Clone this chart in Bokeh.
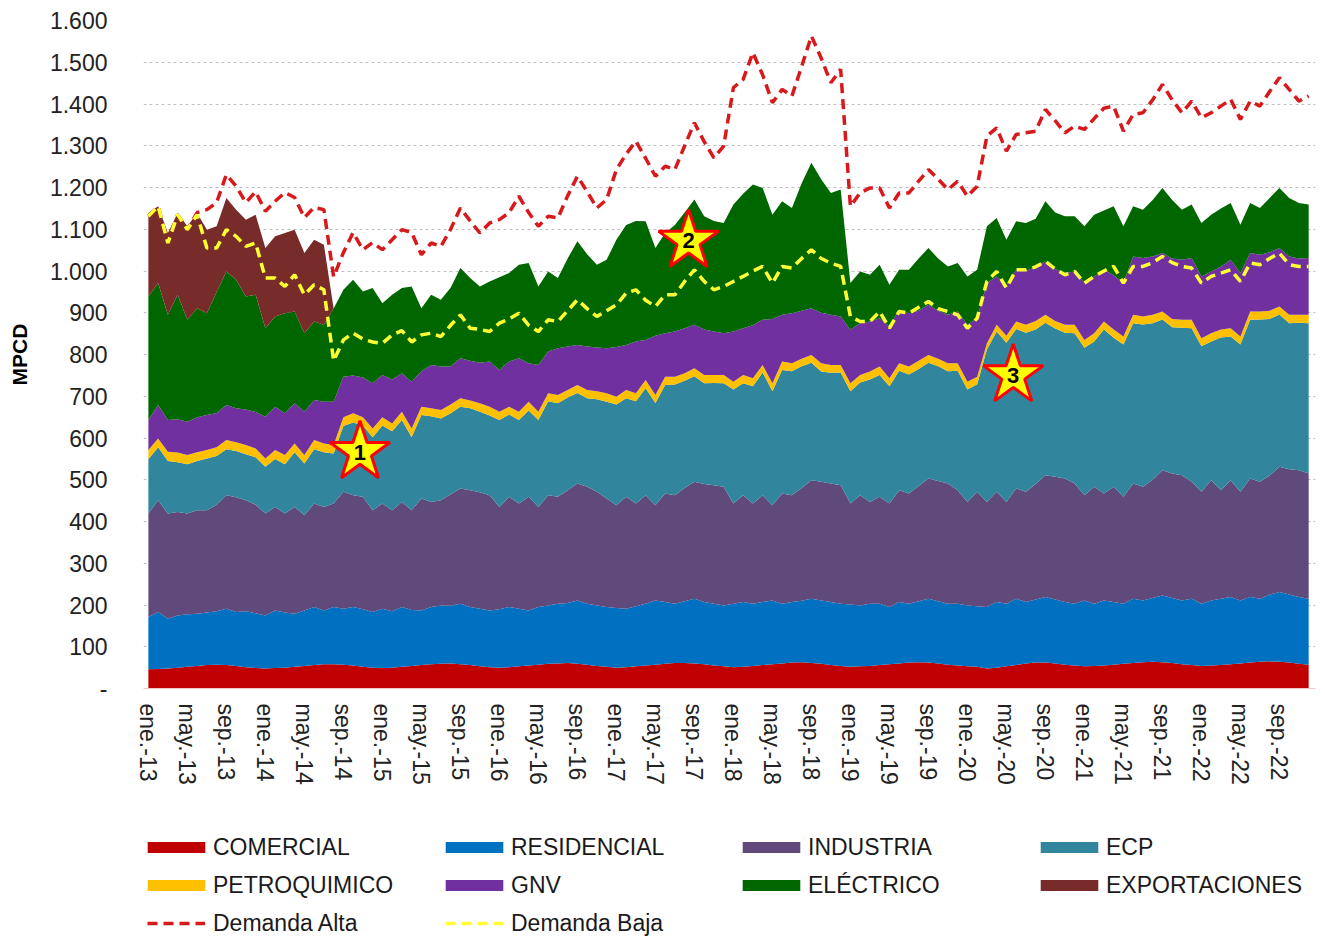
from bokeh.plotting import figure
from bokeh.layouts import column
from bokeh.models import ColumnDataSource, FixedTicker, Legend, LegendItem, Range1d
from bokeh.embed import file_html
from bokeh.resources import INLINE
from bokeh.core.properties import value

# ---------------- data (MPCD, monthly ene-13 .. dic-22) ----------------
tick_labels = ["ene.-13", "may.-13", "sep.-13", "ene.-14", "may.-14", "sep.-14",
               "ene.-15", "may.-15", "sep.-15", "ene.-16", "may.-16", "sep.-16",
               "ene.-17", "may.-17", "sep.-17", "ene.-18", "may.-18", "sep.-18",
               "ene.-19", "may.-19", "sep.-19", "ene.-20", "may.-20", "sep.-20",
               "ene.-21", "may.-21", "sep.-21", "ene.-22", "may.-22", "sep.-22"]

y_tick_values = [0, 100, 200, 300, 400, 500, 600, 700, 800, 900, 1000,
                 1100, 1200, 1300, 1400, 1500, 1600]
y_tick_labels = ["-", "100", "200", "300", "400", "500", "600", "700", "800", "900",
                 "1.000", "1.100", "1.200", "1.300", "1.400", "1.500", "1.600"]

comercial = [46, 47, 48, 50, 52, 54, 56, 57, 56, 54, 51, 49,
             48, 49, 50, 52, 54, 56, 58, 58, 57, 55, 52, 50,
             49, 50, 52, 54, 56, 58, 59, 60, 58, 56, 53, 51,
             50, 51, 53, 55, 57, 59, 60, 61, 59, 57, 54, 52,
             50, 51, 53, 55, 57, 59, 61, 61, 60, 58, 55, 53,
             51, 52, 54, 56, 58, 60, 62, 63, 61, 59, 56, 54,
             52, 53, 54, 56, 58, 60, 62, 63, 62, 60, 57, 55,
             53, 52, 48, 50, 53, 56, 60, 62, 62, 60, 57, 55,
             53, 54, 55, 57, 59, 61, 63, 64, 63, 61, 58, 56,
             54, 55, 56, 58, 60, 62, 64, 65, 64, 62, 59, 57]

residencial = [125, 136, 119, 125, 126, 125, 126, 128, 135, 129, 134, 131,
               127, 138, 132, 127, 133, 139, 129, 137, 134, 140, 138, 133,
               142, 135, 143, 134, 131, 137, 140, 138, 145, 139, 138, 136,
               140, 144, 138, 132, 138, 140, 143, 144, 152, 146, 145, 143,
               143, 140, 144, 148, 154, 148, 142, 148, 155, 149, 148, 146,
               152, 155, 149, 151, 153, 143, 145, 147, 154, 152, 151, 149,
               149, 146, 149, 147, 137, 147, 141, 146, 153, 149, 146, 148,
               146, 145, 147, 157, 150, 159, 147, 151, 157, 153, 150, 148,
               158, 149, 156, 150, 144, 154, 148, 153, 160, 156, 153, 159,
               149, 156, 159, 161, 151, 157, 151, 160, 167, 163, 160, 158]

industria = [248, 268, 252, 248, 241, 248, 245, 255, 272, 275, 266, 260,
             244, 248, 237, 256, 228, 248, 248, 248, 280, 268, 269, 244,
             252, 242, 252, 239, 268, 252, 252, 267, 276, 280, 279, 276,
             245, 264, 252, 272, 240, 264, 256, 270, 280, 280, 272, 260,
             246, 268, 246, 260, 228, 260, 260, 271, 280, 283, 284, 284,
             240, 256, 240, 256, 228, 264, 256, 270, 284, 284, 284, 284,
             242, 264, 244, 256, 248, 268, 264, 276, 288, 288, 288, 272,
             248, 274, 252, 264, 244, 264, 264, 277, 292, 294, 296, 288,
             252, 280, 256, 276, 256, 276, 272, 283, 300, 298, 300, 280,
             268, 288, 260, 280, 260, 284, 280, 285, 300, 300, 304, 300]

ecp = [130, 127, 126, 119, 118, 118, 124, 117, 110, 111, 110, 114,
       112, 115, 118, 131, 124, 130, 131, 120, 158, 174, 171, 175,
       187, 189, 196, 175, 200, 205, 196, 194, 196, 196, 193, 191,
       208, 197, 200, 207, 208, 225, 224, 222, 217, 212, 222, 232,
       241, 236, 245, 256, 245, 260, 265, 257, 253, 241, 245, 248,
       273, 268, 281, 294, 273, 296, 297, 292, 281, 264, 265, 270,
       269, 270, 293, 292, 281, 286, 285, 280, 277, 275, 269, 286,
       269, 258, 365, 384, 381, 382, 381, 370, 365, 355, 349, 360,
       353, 348, 393, 357, 365, 384, 389, 375, 361, 350, 353, 368,
       349, 332, 366, 344, 353, 380, 389, 375, 365, 350, 353, 360]

petroquimico = [22, 21, 22, 23, 22, 21, 20, 21, 22, 21, 22, 21,
                20, 21, 22, 21, 20, 22, 21, 20, 21, 22, 20, 21,
                20, 19, 20, 21, 20, 19, 20, 21, 20, 19, 20, 21,
                20, 19, 20, 21, 20, 19, 20, 18, 19, 20, 19, 20,
                19, 20, 19, 20, 19, 20, 19, 18, 19, 20, 19, 20,
                19, 20, 19, 18, 19, 20, 19, 18, 19, 20, 19, 18,
                19, 18, 19, 20, 19, 18, 19, 20, 19, 18, 19, 18,
                19, 18, 15, 16, 17, 18, 19, 20, 19, 18, 19, 20,
                19, 20, 19, 20, 19, 20, 19, 20, 19, 20, 19, 20,
                19, 20, 19, 20, 19, 20, 19, 20, 19, 20, 19, 20]

gnv = [72, 80, 76, 80, 80, 84, 84, 82, 84, 81, 85, 87,
       100, 104, 100, 96, 104, 96, 100, 104, 97, 91, 95, 108,
       101, 105, 92, 112, 85, 104, 104, 91, 96, 95, 97, 108,
       100, 108, 128, 92, 112, 100, 112, 104, 96, 104, 105, 108,
       119, 108, 124, 96, 142, 104, 108, 108, 104, 109, 104, 100,
       120, 112, 127, 108, 154, 112, 120, 115, 112, 121, 120, 116,
       128, 124, 120, 116, 124, 128, 128, 120, 120, 115, 116, 124,
       136, 140, 144, 116, 122, 124, 129, 130, 128, 125, 124, 128,
       136, 136, 124, 130, 128, 140, 140, 140, 140, 145, 144, 148,
       148, 148, 150, 164, 152, 140, 136, 140, 140, 140, 135, 136]

electrico = [296, 292, 252, 298, 244, 261, 244, 290, 320, 308, 271, 281,
             212, 216, 240, 220, 188, 188, 184, 223, 208, 229, 206, 228,
             172, 203, 204, 228, 151, 168, 160, 189, 216, 198, 183, 192,
             222, 212, 224, 240, 188, 192, 168, 211, 248, 221, 198, 212,
             257, 287, 289, 284, 210, 240, 255, 277, 300, 271, 265, 264,
             304, 322, 337, 316, 250, 272, 252, 305, 348, 320, 292, 304,
             112, 124, 112, 128, 100, 96, 104, 125, 136, 125, 116, 116,
             116, 116, 136, 140, 108, 116, 115, 115, 144, 135, 136, 132,
             136, 148, 142, 165, 136, 120, 116, 135, 156, 140, 120, 128,
             128, 136, 140, 136, 116, 120, 112, 130, 144, 140, 133, 128]

exportaciones = [200, 184, 196, 196, 224, 228, 200, 157, 176, 168, 184, 192,
                 192, 192, 192, 196, 192, 196, 192, 0, 0, 0, 0, 0,
                 0, 0, 0, 0, 0, 0, 0, 0, 0, 0, 0, 0,
                 0, 0, 0, 0, 0, 0, 0, 0, 0, 0, 0, 0,
                 0, 0, 0, 0, 0, 0, 0, 0, 0, 0, 0, 0,
                 0, 0, 0, 0, 0, 0, 0, 0, 0, 0, 0, 0,
                 0, 0, 0, 0, 0, 0, 0, 0, 0, 0, 0, 0,
                 0, 0, 0, 0, 0, 0, 0, 0, 0, 0, 0, 0,
                 0, 0, 0, 0, 0, 0, 0, 0, 0, 0, 0, 0,
                 0, 0, 0, 0, 0, 0, 0, 0, 0, 0, 0, 0]

demanda_alta = [1131, 1155, 1067, 1135, 1099, 1140, 1147, 1164, 1231, 1203, 1164, 1190,
                1143, 1167, 1188, 1176, 1128, 1152, 1147, 986, 1044, 1092, 1051, 1068,
                1051, 1075, 1099, 1092, 1039, 1067, 1059, 1100, 1151, 1120, 1091, 1115,
                1123, 1140, 1179, 1140, 1107, 1131, 1127, 1180, 1227, 1190, 1151, 1171,
                1243, 1280, 1311, 1270, 1227, 1251, 1243, 1300, 1355, 1310, 1271, 1299,
                1439, 1459, 1523, 1470, 1403, 1435, 1419, 1490, 1563, 1510, 1451, 1483,
                1155, 1187, 1199, 1199, 1151, 1187, 1187, 1215, 1243, 1220, 1195, 1215,
                1179, 1203, 1323, 1343, 1287, 1327, 1331, 1335, 1387, 1360, 1331, 1347,
                1339, 1365, 1390, 1395, 1335, 1375, 1379, 1410, 1447, 1410, 1379, 1407,
                1367, 1379, 1395, 1411, 1363, 1407, 1395, 1430, 1463, 1435, 1407, 1419]

demanda_baja = [1131, 1155, 1067, 1135, 1099, 1135, 1055, 1055, 1099, 1083, 1059, 1067,
                983, 983, 963, 991, 943, 967, 955, 785, 835, 851, 837, 830,
                827, 847, 857, 830, 847, 851, 843, 870, 895, 863, 860, 855,
                875, 885, 899, 870, 855, 883, 879, 905, 931, 910, 891, 905,
                919, 947, 955, 930, 915, 943, 943, 975, 1003, 975, 955, 963,
                975, 987, 1000, 1011, 971, 1011, 1007, 1030, 1051, 1030, 1019, 1011,
                891, 879, 879, 903, 863, 903, 899, 913, 927, 910, 903, 895,
                863, 887, 975, 999, 959, 1003, 1003, 1010, 1023, 1005, 991, 999,
                971, 987, 1000, 1011, 971, 1011, 1011, 1020, 1035, 1020, 1011, 1007,
                971, 987, 995, 1003, 975, 1019, 1015, 1030, 1043, 1015, 1011, 1011]

# star call-outs (month index, MPCD, label)
star_x = [21.7, 55.4, 88.7]
star_y = [566, 1072, 750]
star_text = ["1", "2", "3"]

series_keys = ["comercial", "residencial", "industria", "ecp",
               "petroquimico", "gnv", "electrico", "exportaciones"]
series_names = ["COMERCIAL", "RESIDENCIAL", "INDUSTRIA", "ECP",
                "PETROQUIMICO", "GNV", "ELÉCTRICO", "EXPORTACIONES"]
series_colors = ["#C00000", "#0070C0", "#604A7B", "#31859C",
                 "#FFC000", "#7030A0", "#006600", "#772C2A"]
line_names = ["Demanda Alta", "Demanda Baja"]
line_colors = ["#D7191C", "#FFFF33"]

months = list(range(len(comercial)))
source = ColumnDataSource(dict(
    x=months, comercial=comercial, residencial=residencial, industria=industria,
    ecp=ecp, petroquimico=petroquimico, gnv=gnv, electrico=electrico,
    exportaciones=exportaciones, alta=demanda_alta, baja=demanda_baja))

FONT = "Liberation Sans"
W = 1317

# ---------------- main chart ----------------
p = figure(width=W, height=809, output_backend="svg", toolbar_location=None,
           x_range=Range1d(-0.5, len(months) - 0.3), y_range=Range1d(0, 1600),
           min_border_left=143, min_border_right=2, min_border_top=20,
           min_border_bottom=121)
p.outline_line_color = None

p.varea_stack(stackers=series_keys, x="x", color=series_colors, source=source)
p.line("x", "alta", source=source, line_color=line_colors[0], line_width=3.5,
       line_dash="10 6")
p.line("x", "baja", source=source, line_color=line_colors[1], line_width=3.5,
       line_dash="10 6")

p.scatter(x=star_x, y=star_y, marker="star", size=63, fill_color="#FFFF00",
          line_color="#FF0000", line_width=3)
p.text(x=star_x, y=star_y, text=star_text, text_align="center",
       text_baseline="middle", text_font=value(FONT), text_font_size="22px",
       text_font_style="bold", text_color="black")

p.xaxis.ticker = FixedTicker(ticks=[i * 4 for i in range(len(tick_labels))])
p.xaxis.major_label_overrides = {i * 4: t for i, t in enumerate(tick_labels)}
p.xaxis.major_label_orientation = "vertical"
p.xaxis.major_label_text_font = FONT
p.xaxis.major_label_text_font_size = "23px"
p.xaxis.major_label_text_color = "#222222"
p.xaxis.major_label_standoff = 9
p.xaxis.major_tick_line_color = None
p.xaxis.minor_tick_line_color = None
p.xaxis.axis_line_color = "#F4C7C3"

p.yaxis.ticker = FixedTicker(ticks=y_tick_values)
p.yaxis.major_label_overrides = dict(zip(y_tick_values, y_tick_labels))
p.yaxis.major_label_text_font = FONT
p.yaxis.major_label_text_font_size = "23px"
p.yaxis.major_label_text_color = "#222222"
p.yaxis.major_label_standoff = 30
p.yaxis.major_tick_line_color = None
p.yaxis.minor_tick_line_color = None
p.yaxis.axis_line_color = None
p.yaxis.axis_label = "MPCD"
p.yaxis.axis_label_text_font = FONT
p.yaxis.axis_label_text_font_size = "21px"
p.yaxis.axis_label_text_font_style = "bold"
p.yaxis.axis_label_text_color = "black"
p.yaxis.axis_label_standoff = 16

p.xgrid.grid_line_color = None
p.ygrid.grid_line_color = "#BFBFBF"
p.ygrid.grid_line_dash = "3 3"
p.ygrid.grid_line_width = 1

# ---------------- legend strip (its frame is aligned with the chart's) ----------------
lg = figure(width=W, height=128, output_backend="svg", toolbar_location=None,
            x_axis_type=None, y_axis_type=None, min_border=0,
            x_range=Range1d(0, 1), y_range=Range1d(0, 1))
lg.outline_line_color = None

# legend-only renderers: their points lie outside the visible range
area_r = [lg.varea(x=[5, 6], y1=[5, 5], y2=[6, 6], fill_color=c) for c in series_colors]
line_r = [lg.line(x=[5, 6], y=[5, 5], line_color=c, line_width=3.5, line_dash="10 6")
          for c in line_colors]

LEG_STYLE = dict(orientation="vertical", label_height=28, spacing=10, padding=0,
                 margin=0, border_line_color=None, background_fill_alpha=0,
                 label_text_font=FONT, label_text_font_size="23px",
                 label_text_color="#1A1A1A")

col_x = [4, 302, 599, 897]
# area entries: two rows per column (area swatches are drawn with a 10% inset)
for k, cx in enumerate(col_x):
    its = [(series_names[k], area_r[k]), (series_names[k + 4], area_r[k + 4])]
    leg = Legend(items=[LegendItem(label=l, renderers=[r]) for l, r in its],
                 location=(cx - 7, 128 - 24 - 66), glyph_width=72, glyph_height=14,
                 label_standoff=1, **LEG_STYLE)
    lg.add_layout(leg, "center")
# line entries: third row, first two columns
for k in range(2):
    leg = Legend(items=[LegendItem(label=line_names[k], renderers=[line_r[k]])],
                 location=(col_x[k], 0), glyph_width=58, glyph_height=14,
                 label_standoff=8, **LEG_STYLE)
    lg.add_layout(leg, "center")

layout = column(p, lg, spacing=0)
open("out.html", "w").write(file_html(layout, INLINE))
